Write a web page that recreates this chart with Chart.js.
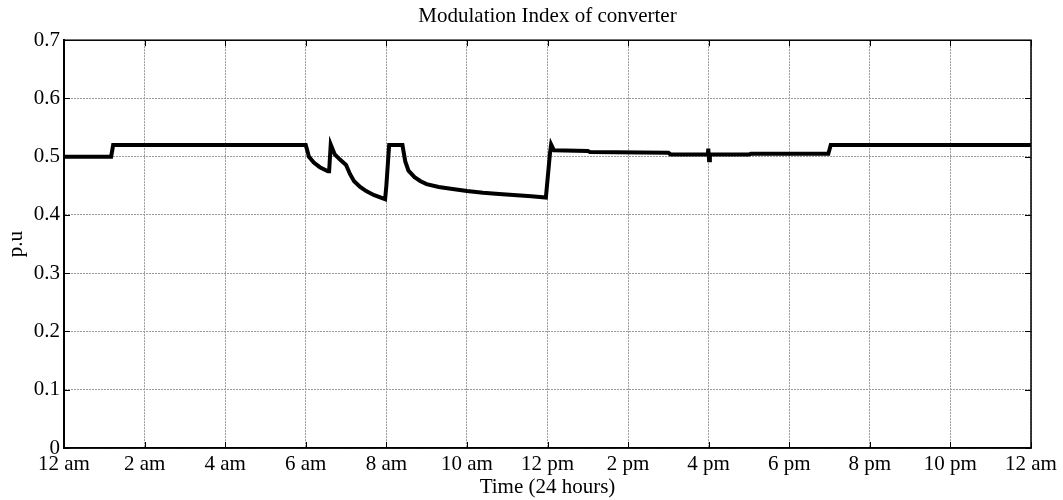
<!DOCTYPE html>
<html>
<head>
<meta charset="utf-8">
<script src="https://cdn.jsdelivr.net/npm/chart.js@4.4.1/dist/chart.umd.min.js"></script>
<style>
  html, body { margin: 0; padding: 0; background: #fff; }
  #wrap { width: 1063px; height: 500px; }
</style>
</head>
<body>
<div id="wrap"><canvas id="modChart" width="1063" height="500"></canvas></div>
<script>
// time in hours (0 - 24)
const hours = [0, 1.17, 1.22, 6.0, 6.08, 6.2, 6.35, 6.55, 6.58, 6.62, 6.72, 6.85, 7.0, 7.1, 7.2, 7.35, 7.5, 7.7, 7.97,
  8.0, 8.07, 8.4, 8.47, 8.55, 8.7, 8.85, 9.0, 9.3, 9.6, 10.0, 10.4, 10.8, 11.24, 11.6, 11.96,
  12.06, 12.09, 12.16, 13.0, 13.05, 15.0, 15.05, 15.98, 15.99, 16.01, 16.03, 17.0, 17.05, 18.97, 19.03, 24];
// modulation index (p.u)
const modIndex = [0.5, 0.5, 0.52, 0.52, 0.5, 0.49, 0.482, 0.475, 0.475, 0.521, 0.504, 0.495, 0.486, 0.47, 0.458, 0.448, 0.441, 0.434, 0.427,
  0.45, 0.52, 0.52, 0.492, 0.476, 0.465, 0.458, 0.453, 0.448, 0.445, 0.441, 0.438, 0.436, 0.434, 0.432, 0.43,
  0.505, 0.521, 0.511, 0.51, 0.508, 0.507, 0.504, 0.504, 0.514, 0.494, 0.504, 0.504, 0.505, 0.505, 0.52, 0.52];

const xTickLabels = ['12 am', '2 am', '4 am', '6 am', '8 am', '10 am', '12 pm',
  '2 pm', '4 pm', '6 pm', '8 pm', '10 pm', '12 am'];

const points = hours.map((h, i) => ({ x: h, y: modIndex[i] }));

const serif = '"Liberation Serif", "Times New Roman", serif';
const fontSize = 21;

// small inward tick marks and the box around the plot, matlab style
const boxTicks = {
  id: 'boxTicks',
  afterDraw(chart) {
    const { ctx, chartArea: a, scales } = chart;
    ctx.save();
    ctx.strokeStyle = '#000';
    ctx.lineWidth = 1;
    scales.x.ticks.forEach(t => {
      const px = Math.round(scales.x.getPixelForValue(t.value)) + 0.5;
      ctx.beginPath();
      ctx.moveTo(px, a.bottom); ctx.lineTo(px, a.bottom - 6);
      ctx.moveTo(px, a.top); ctx.lineTo(px, a.top + 6);
      ctx.stroke();
    });
    scales.y.ticks.forEach(t => {
      const py = Math.round(scales.y.getPixelForValue(t.value)) + 0.5;
      ctx.beginPath();
      ctx.moveTo(a.left, py); ctx.lineTo(a.left + 6, py);
      ctx.moveTo(a.right, py); ctx.lineTo(a.right - 6, py);
      ctx.stroke();
    });
    ctx.lineWidth = 1.5;
    ctx.strokeRect(a.left, a.top, a.right - a.left, a.bottom - a.top);
    ctx.restore();
  }
};

new Chart(document.getElementById('modChart'), {
  type: 'line',
  data: {
    datasets: [{
      data: points,
      borderColor: '#000',
      borderWidth: 4,
      pointRadius: 0,
      tension: 0,
      fill: false
    }]
  },
  options: {
    responsive: false,
    animation: false,
    layout: { padding: { left: 0, right: 32, top: 0, bottom: 0 } },
    plugins: {
      legend: { display: false },
      tooltip: { enabled: false },
      title: {
        display: true,
        fullSize: false,
        text: 'Modulation Index of converter',
        color: '#000',
        font: { family: serif, size: fontSize, weight: 'normal' },
        padding: { top: 4, bottom: 11 }
      }
    },
    scales: {
      x: {
        type: 'linear',
        min: 0,
        max: 24,
        ticks: {
          stepSize: 2,
          color: '#000',
          padding: 4,
          maxRotation: 0,
          autoSkip: false,
          font: { family: serif, size: fontSize },
          callback: v => xTickLabels[v / 2]
        },
        grid: { color: '#9a9a9a', lineWidth: 1, drawTicks: false },
        border: { display: true, color: '#000', width: 1.5, dash: [2, 1] },
        title: {
          display: true,
          text: 'Time (24 hours)',
          color: '#000',
          padding: { top: 0, bottom: 0 },
          font: { family: serif, size: fontSize }
        },
        afterFit: s => { s.height = 52; }
      },
      y: {
        min: 0,
        max: 0.7,
        ticks: {
          stepSize: 0.1,
          color: '#000',
          padding: 4,
          font: { family: serif, size: fontSize },
          callback: v => (Math.round(v * 10) / 10).toString()
        },
        grid: { color: '#9a9a9a', lineWidth: 1, drawTicks: false },
        border: { display: true, color: '#000', width: 2, dash: [2, 1] },
        title: {
          display: true,
          text: 'p.u',
          color: '#000',
          padding: { top: 4, bottom: 0 },
          font: { family: serif, size: fontSize }
        },
        afterFit: s => { s.width = 64; }
      }
    }
  },
  plugins: [boxTicks]
});
</script>
</body>
</html>
